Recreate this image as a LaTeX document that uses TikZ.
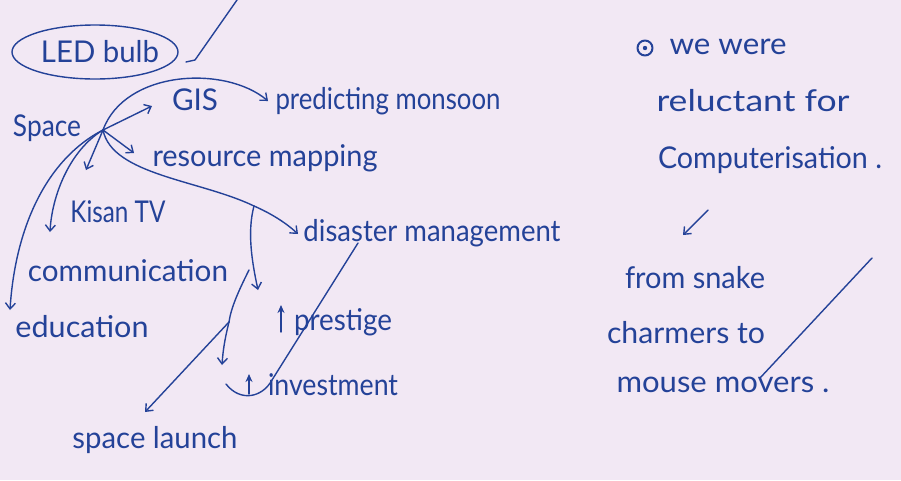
\documentclass[tikz,border=0pt]{standalone}
\usepackage{fontspec}
\setmainfont{Lato}
\usetikzlibrary{arrows.meta}
\definecolor{paper}{RGB}{242,232,244}
\definecolor{ink}{RGB}{36,66,152}
\newcommand{\hw}[2]{\resizebox{#1pt}{\height}{#2}}
\begin{document}
\begin{tikzpicture}[x=1pt,y=-1pt,
  txt/.style={text=ink, inner sep=0pt, font=\fontsize{30}{34}\selectfont},
  ln/.style={draw=ink, line width=1.4pt, line cap=round, line join=round},
  arr/.style={ln, -{Straight Barb[length=6pt,width=10pt]}},
  uparr/.style={ln, -{Stealth[length=8pt,width=7pt]}},
]
\fill[paper] (0,0) rectangle (901,480);
\useasboundingbox (0,0) rectangle (901,480);

% ---- left mind map ----
\node[txt] (led) at (100,52) {\hw{118}{LED bulb}};
\draw[ln] (95,52) ellipse [x radius=83, y radius=27];
\coordinate (tickTop) at (237,0);
\coordinate (tickBot) at (195,60);
\coordinate (tickEnd) at (186,62);
\draw[ln] (tickTop) -- (tickBot) -- (tickEnd);

\node[txt] (space) at (47,128) {\hw{68}{Space}};
\coordinate (hub) at (103,130);

\node[txt] (gis) at (195,100) {\hw{46}{GIS}};
\node[txt] (pred) at (388,101) {\hw{225}{predicting monsoon}};
\node[txt] (res) at (265,158) {\hw{225}{resource mapping}};
\node[txt] (kisan) at (118,212) {\hw{95}{Kisan TV}};
\node[txt] (comm) at (128,271) {\hw{200}{communication}};
\node[txt] (edu) at (82,327) {\hw{133}{education}};
\node[txt] (dis) at (432,233) {\hw{257}{disaster management}};
\node[txt] (prest) at (343,322) {\hw{98}{prestige}};
\node[txt] (inv) at (333,385) {\hw{130}{investment}};
\node[txt] (launch) at (155,440) {\hw{165}{space launch}};

\coordinate (gisTip) at (152,106);
\coordinate (predTip) at (268,101);
\coordinate (resTip) at (134,153);
\coordinate (kisanTip) at (86,170);
\coordinate (commTip) at (50,232);
\coordinate (eduTip) at (10,310);
\coordinate (disMid) at (254,206);
\coordinate (disTip) at (298,234);
\coordinate (brTip) at (258,290);
\coordinate (lTop) at (249,270);
\coordinate (lMid) at (229,322);
\coordinate (lTip) at (222,365);
\coordinate (launchTip) at (145,412);
\coordinate (sTop) at (358,243);
\coordinate (sLow) at (272,380);
\coordinate (sEnd) at (226,384);

\draw[arr] (hub) -- (gisTip);
\draw[arr] (hub) .. controls (125,70) and (225,65) .. (predTip);
\draw[arr] (hub) -- (resTip);
\draw[arr] (hub) -- (kisanTip);
\draw[arr] (hub) .. controls (70,150) and (52,195) .. (commTip);
\draw[arr] (hub) .. controls (45,160) and (15,230) .. (eduTip);
\draw[ln] (hub) .. controls (112,175) and (200,180) .. (disMid);
\draw[arr] (disMid) .. controls (270,213) and (285,222) .. (disTip);
\draw[arr] (disMid) .. controls (247,232) and (252,262) .. (brTip);
\draw[ln] (lTop) .. controls (238,292) and (231,308) .. (lMid);
\draw[arr] (lMid) .. controls (225,338) and (223,350) .. (lTip);
\draw[arr] (lMid) -- (launchTip);
\draw[ln] (sTop) -- (sLow) .. controls (262,398) and (240,402) .. (sEnd);
\draw[uparr] (281,332) -- (281,305);
\draw[uparr] (249,394) -- (249,374);

% ---- right notes ----
\draw[ln, line width=2pt] (645,48) circle (7.5);
\fill[ink] (645,48) circle (2.2);
\node[txt] (r1) at (728,47) {\hw{117}{we were}};
\node[txt] (r2) at (753,101) {\hw{193}{reluctant for}};
\node[txt] (r3) at (770,160) {\hw{224}{Computerisation~.}};
\coordinate (rTail) at (708,210);
\coordinate (rTip) at (683,235);
\draw[arr] (rTail) -- (rTip);
\node[txt] (r4) at (695,278) {\hw{140}{from snake}};
\node[txt] (r5) at (686,333) {\hw{158}{charmers to}};
\node[txt] (r6) at (723,385) {\hw{213}{mouse movers .}};
\coordinate (slashTop) at (872,258);
\coordinate (slashBot) at (760,378);
\draw[ln] (slashTop) -- (slashBot);
\end{tikzpicture}
\end{document}
